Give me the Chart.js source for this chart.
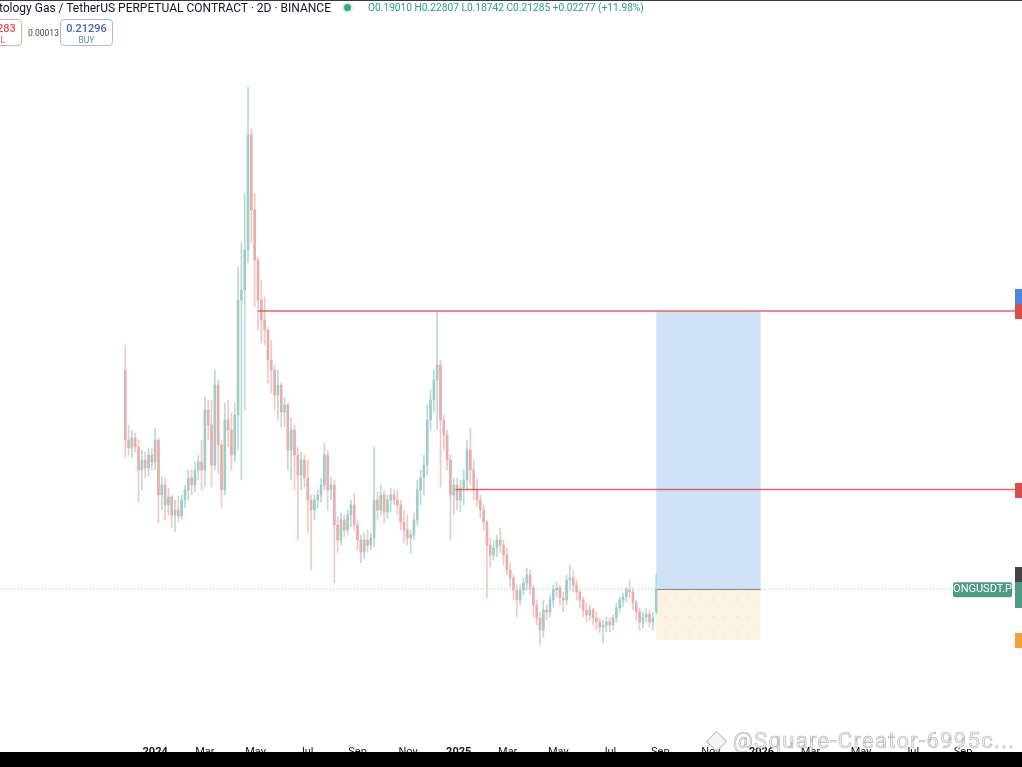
<!DOCTYPE html>
<html>
<head>
<meta charset="utf-8">
<script src="https://cdn.jsdelivr.net/npm/chart.js@4.4.1/dist/chart.umd.min.js"></script>
<style>
  html, body { margin: 0; padding: 0; background: #fff; }
  body { width: 1022px; height: 767px; position: relative; overflow: hidden; font-family: Roboto, "Noto Sans", sans-serif; }
  #chart-wrap { position: absolute; left: 0; top: 0; width: 1022px; height: 752px; }
  .top-rule { position: absolute; left: 0; top: 0; width: 1022px; height: 1px; background: #3a3a3a; }
  .title { position: absolute; right: 691px; top: 1px; font-size: 12px; color: #131722; white-space: nowrap; }
  .status-dot { position: absolute; left: 344px; top: 4px; width: 7px; height: 7px; border-radius: 50%; background: #3fa58a; box-shadow: 0 0 0 2px rgba(63,165,138,0.2); }
  .ohlc { position: absolute; left: 368px; top: 2px; font-size: 10.2px; color: #2a9d86; white-space: nowrap; }
  .trade-box { position: absolute; top: 19px; width: 53px; height: 27px; border-radius: 4px; text-align: center; box-sizing: border-box; }
  .trade-box .p { font-size: 11px; line-height: 13px; margin-top: 2px; font-weight: 500; }
  .trade-box .s { font-size: 8.5px; line-height: 10px; }
  .sell { left: -31px; border: 1px solid #eea3a3; color: #df5452; }
  .buy { left: 60px; border: 1px solid #a9b9e6; color: #4563b2; }
  .buy .s { color: #6f83c2; }
  .spread { position: absolute; left: 28px; top: 28px; font-size: 8.5px; color: #444; }
  .watermark { position: absolute; left: 733px; top: 728px; font-size: 22px; color: rgba(242,242,242,0.8); -webkit-text-stroke: 0.7px #b8b8b8; white-space: nowrap; letter-spacing: 1.3px; }
  .wm-logo { position: absolute; left: 709px; top: 734px; width: 13px; height: 13px; border: 1.5px solid #bcbcbc; transform: rotate(45deg); background: rgba(240,240,240,0.6); }
  .bottom-bar { position: absolute; left: 0; top: 752px; width: 1022px; height: 15px; background: #000; }
</style>
</head>
<body>
<div id="chart-wrap"><canvas id="ong-chart" width="1022" height="752"></canvas></div>
<div class="top-rule"></div>
<div class="title">Ontology Gas / TetherUS PERPETUAL CONTRACT · 2D · BINANCE</div>
<div class="status-dot"></div>
<div class="ohlc">O0.19010 H0.22807 L0.18742 C0.21285 +0.02277 (+11.98%)</div>
<div class="trade-box sell"><div class="p">0.21283</div><div class="s">SELL</div></div>
<div class="spread">0.00013</div>
<div class="trade-box buy"><div class="p">0.21296</div><div class="s">BUY</div></div>
<div class="wm-logo"></div>
<div class="watermark">@Square-Creator-6995c...</div>
<div class="bottom-bar"></div>

<script>
// candles: one every 4 days starting 2023-11-26 (days counted from 2024-01-01)
const CANDLE_START_DAY = -36;
const CANDLE_STEP_DAYS = 4;

const opens = [
  0.432, 0.362, 0.354, 0.364, 0.355, 0.332, 0.342, 0.334, 0.347, 0.340,
  0.362, 0.307, 0.317, 0.297, 0.305, 0.287, 0.292, 0.286, 0.302, 0.312,
  0.324, 0.317, 0.332, 0.340, 0.332, 0.392, 0.377, 0.337, 0.417, 0.357,
  0.312, 0.382, 0.372, 0.347, 0.387, 0.502, 0.512, 0.552, 0.667, 0.592,
  0.542, 0.502, 0.482, 0.472, 0.442, 0.432, 0.407, 0.417, 0.390, 0.397,
  0.352, 0.372, 0.347, 0.327, 0.342, 0.324, 0.302, 0.292, 0.302, 0.307,
  0.317, 0.347, 0.312, 0.317, 0.277, 0.262, 0.282, 0.272, 0.287, 0.297,
  0.277, 0.262, 0.250, 0.262, 0.257, 0.264, 0.302, 0.292, 0.307, 0.290,
  0.302, 0.307, 0.302, 0.297, 0.280, 0.272, 0.264, 0.267, 0.282, 0.312,
  0.324, 0.337, 0.382, 0.402, 0.422, 0.437, 0.382, 0.367, 0.342, 0.307,
  0.317, 0.302, 0.314, 0.322, 0.352, 0.332, 0.312, 0.302, 0.292, 0.280,
  0.257, 0.247, 0.254, 0.262, 0.257, 0.247, 0.232, 0.224, 0.212, 0.202,
  0.212, 0.219, 0.227, 0.214, 0.197, 0.184, 0.172, 0.192, 0.190, 0.202,
  0.212, 0.214, 0.204, 0.202, 0.222, 0.224, 0.217, 0.210, 0.202, 0.192,
  0.187, 0.192, 0.184, 0.180, 0.175, 0.177, 0.180, 0.177, 0.184, 0.194,
  0.202, 0.205, 0.212, 0.210, 0.199, 0.190, 0.180, 0.185, 0.188, 0.180,
  0.19010
];
const highs = [
  0.457, 0.377, 0.372, 0.369, 0.362, 0.352, 0.350, 0.354, 0.354, 0.374,
  0.364, 0.325, 0.324, 0.314, 0.307, 0.302, 0.306, 0.307, 0.317, 0.332,
  0.332, 0.340, 0.347, 0.362, 0.405, 0.402, 0.402, 0.432, 0.422, 0.362,
  0.399, 0.402, 0.389, 0.399, 0.535, 0.559, 0.609, 0.715, 0.674, 0.609,
  0.545, 0.522, 0.505, 0.475, 0.462, 0.437, 0.432, 0.419, 0.405, 0.399,
  0.384, 0.377, 0.355, 0.350, 0.347, 0.342, 0.307, 0.307, 0.312, 0.324,
  0.359, 0.352, 0.325, 0.322, 0.285, 0.289, 0.287, 0.292, 0.302, 0.309,
  0.282, 0.267, 0.269, 0.272, 0.269, 0.355, 0.310, 0.317, 0.312, 0.307,
  0.314, 0.312, 0.312, 0.302, 0.292, 0.287, 0.272, 0.289, 0.322, 0.332,
  0.347, 0.397, 0.412, 0.432, 0.490, 0.442, 0.387, 0.372, 0.347, 0.324,
  0.324, 0.322, 0.332, 0.362, 0.374, 0.342, 0.324, 0.307, 0.297, 0.282,
  0.264, 0.262, 0.267, 0.274, 0.262, 0.254, 0.239, 0.227, 0.217, 0.217,
  0.224, 0.234, 0.232, 0.217, 0.202, 0.190, 0.202, 0.197, 0.207, 0.217,
  0.220, 0.217, 0.210, 0.227, 0.237, 0.232, 0.222, 0.212, 0.205, 0.199,
  0.197, 0.194, 0.190, 0.184, 0.182, 0.185, 0.184, 0.187, 0.199, 0.205,
  0.209, 0.215, 0.222, 0.214, 0.202, 0.194, 0.190, 0.194, 0.192, 0.190,
  0.22807
];
const lows = [
  0.345, 0.347, 0.344, 0.350, 0.300, 0.312, 0.324, 0.326, 0.332, 0.332,
  0.279, 0.292, 0.282, 0.287, 0.274, 0.270, 0.280, 0.282, 0.294, 0.302,
  0.307, 0.310, 0.322, 0.312, 0.315, 0.362, 0.315, 0.332, 0.329, 0.295,
  0.307, 0.355, 0.332, 0.340, 0.352, 0.322, 0.392, 0.539, 0.559, 0.495,
  0.472, 0.459, 0.457, 0.419, 0.409, 0.392, 0.382, 0.375, 0.375, 0.332,
  0.322, 0.312, 0.262, 0.312, 0.315, 0.269, 0.232, 0.282, 0.294, 0.300,
  0.312, 0.292, 0.302, 0.219, 0.249, 0.257, 0.265, 0.267, 0.275, 0.272,
  0.252, 0.239, 0.244, 0.250, 0.252, 0.255, 0.282, 0.287, 0.279, 0.284,
  0.290, 0.297, 0.287, 0.272, 0.259, 0.257, 0.249, 0.262, 0.277, 0.297,
  0.307, 0.327, 0.372, 0.390, 0.372, 0.315, 0.352, 0.332, 0.262, 0.287,
  0.292, 0.290, 0.297, 0.312, 0.317, 0.302, 0.295, 0.284, 0.272, 0.204,
  0.235, 0.242, 0.245, 0.249, 0.237, 0.227, 0.215, 0.202, 0.185, 0.197,
  0.207, 0.212, 0.207, 0.185, 0.177, 0.157, 0.165, 0.182, 0.185, 0.195,
  0.205, 0.197, 0.190, 0.197, 0.212, 0.210, 0.202, 0.194, 0.185, 0.180,
  0.182, 0.177, 0.172, 0.169, 0.159, 0.170, 0.170, 0.172, 0.180, 0.190,
  0.195, 0.200, 0.204, 0.192, 0.182, 0.172, 0.174, 0.180, 0.175, 0.172,
  0.18742
];
const closes = [
  0.362, 0.354, 0.364, 0.355, 0.332, 0.342, 0.334, 0.347, 0.340, 0.362,
  0.307, 0.317, 0.297, 0.305, 0.287, 0.292, 0.286, 0.302, 0.312, 0.324,
  0.317, 0.332, 0.340, 0.332, 0.392, 0.377, 0.337, 0.417, 0.357, 0.312,
  0.382, 0.372, 0.347, 0.387, 0.502, 0.512, 0.552, 0.667, 0.592, 0.542,
  0.502, 0.482, 0.472, 0.442, 0.432, 0.407, 0.417, 0.390, 0.397, 0.352,
  0.372, 0.347, 0.327, 0.342, 0.324, 0.302, 0.292, 0.302, 0.307, 0.317,
  0.347, 0.312, 0.317, 0.277, 0.262, 0.282, 0.272, 0.287, 0.297, 0.277,
  0.262, 0.250, 0.262, 0.257, 0.264, 0.302, 0.292, 0.307, 0.290, 0.302,
  0.307, 0.302, 0.297, 0.280, 0.272, 0.264, 0.267, 0.282, 0.312, 0.324,
  0.337, 0.382, 0.402, 0.422, 0.437, 0.382, 0.367, 0.342, 0.307, 0.317,
  0.302, 0.314, 0.322, 0.352, 0.332, 0.312, 0.302, 0.292, 0.280, 0.257,
  0.247, 0.254, 0.262, 0.257, 0.247, 0.232, 0.224, 0.212, 0.202, 0.212,
  0.219, 0.227, 0.214, 0.197, 0.184, 0.172, 0.192, 0.190, 0.202, 0.212,
  0.214, 0.204, 0.202, 0.222, 0.224, 0.217, 0.210, 0.202, 0.192, 0.187,
  0.192, 0.184, 0.180, 0.175, 0.177, 0.180, 0.177, 0.184, 0.194, 0.202,
  0.205, 0.212, 0.210, 0.199, 0.190, 0.180, 0.185, 0.188, 0.180, 0.184,
  0.21285
];

// time axis labels (days from 2024-01-01)
const tickDays = [0, 60, 121, 182, 244, 305, 366, 425, 486, 547, 609, 670, 731, 790, 851, 912, 974];
const tickLabels = ["2024", "Mar", "May", "Jul", "Sep", "Nov", "2025", "Mar", "May", "Jul", "Sep", "Nov", "2026", "Mar", "May", "Jul", "Sep"];

// drawn levels and long-position tool
const resistanceHigh = { fromDay: 124, price: 0.491 };
const resistanceLow = { fromDay: 362, price: 0.3125 };
const lastPrice = 0.21285;
const positionStartDay = 604;
const positionEndDay = 730;
const targetPrice = 0.491;
const entryPrice = 0.21285;
const stopPrice = 0.162;
const axisTagPrices = [0.5065, 0.491, 0.3125, 0.22807, 0.21285, 0.162];

const X_MIN = -187;
const X_MAX = 1045;
const Y_MIN = 0.072;
const Y_MAX = 0.802;

const UP_WICK = "#b8dbd7";
const UP_BODY = "#a3ccc7";
const DOWN_WICK = "#f2c7c5";
const DOWN_BODY = "#e6afad";

const candleDays = closes.map((_, i) => CANDLE_START_DAY + i * CANDLE_STEP_DAYS);
const isUp = (i) => closes[i] >= opens[i];

const positionToolPlugin = {
  id: "positionTool",
  beforeDatasetsDraw(chart) {
    const { ctx, scales: { x, y } } = chart;
    const x0 = x.getPixelForValue(positionStartDay);
    const x1 = x.getPixelForValue(positionEndDay);
    const yT = y.getPixelForValue(targetPrice);
    const yE = y.getPixelForValue(entryPrice);
    const yS = y.getPixelForValue(stopPrice);
    ctx.save();
    ctx.fillStyle = "#cfe2f8";
    ctx.fillRect(x0, yT, x1 - x0, yE - yT);
    ctx.fillStyle = "#fbf3e2";
    ctx.fillRect(x0, yE, x1 - x0, yS - yE);
    // faint dot texture of the stop zone
    ctx.fillStyle = "rgba(190,160,110,0.35)";
    let row = 0;
    for (let yy = yE + 9; yy < yS - 3; yy += 9, row++) {
      for (let xx = x0 + 8 + (row % 2) * 6; xx < x1 - 3; xx += 12) ctx.fillRect(xx, yy, 1, 1);
    }
    ctx.strokeStyle = "#8d8d8d";
    ctx.lineWidth = 1;
    ctx.beginPath();
    ctx.moveTo(x0, Math.round(yE) + 0.5);
    ctx.lineTo(x1, Math.round(yE) + 0.5);
    ctx.stroke();
    ctx.restore();
  },
};

const axisTagPlugin = {
  id: "axisTags",
  afterDraw(chart) {
    const { ctx, scales: { y } } = chart;
    const colors = ["#4a86de", "#d64f4b", "#d64f4b", "#444444", "#4f9a85", "#f0a035"];
    const heights = [15, 15, 15, 15, 26, 15];
    ctx.save();
    axisTagPrices.forEach((p, i) => {
      const py = y.getPixelForValue(p);
      ctx.fillStyle = colors[i];
      ctx.fillRect(1015, Math.round(py - 7), 7, heights[i]);
    });
    // symbol label on the last price
    const py = y.getPixelForValue(lastPrice);
    ctx.fillStyle = "#4f9a85";
    ctx.beginPath();
    ctx.roundRect(953, py - 7, 59, 15, 2);
    ctx.fill();
    ctx.fillStyle = "#ffffff";
    ctx.font = "11px Roboto, sans-serif";
    ctx.textAlign = "center";
    ctx.textBaseline = "middle";
    ctx.fillText("ONGUSDT.P", 982.5, py + 0.5);
    ctx.restore();
  },
};

new Chart(document.getElementById("ong-chart"), {
  type: "bar",
  data: {
    datasets: [
      {
        type: "line",
        label: "Resistance 1",
        data: [{ x: resistanceHigh.fromDay, y: resistanceHigh.price }, { x: X_MAX, y: resistanceHigh.price }],
        borderColor: "rgba(214,79,75,0.85)",
        borderWidth: 1.6,
        pointRadius: 0,
        order: 0,
      },
      {
        type: "line",
        label: "Resistance 2",
        data: [{ x: resistanceLow.fromDay, y: resistanceLow.price }, { x: X_MAX, y: resistanceLow.price }],
        borderColor: "rgba(214,79,75,0.85)",
        borderWidth: 1.6,
        pointRadius: 0,
        order: 0,
      },
      {
        type: "line",
        label: "Last price",
        data: [{ x: X_MIN, y: lastPrice }, { x: X_MAX, y: lastPrice }],
        borderColor: "rgba(63,165,138,0.5)",
        borderWidth: 1,
        borderDash: [1, 2],
        pointRadius: 0,
        order: 3,
      },
      {
        label: "Bodies",
        data: candleDays.map((d, i) => ({ x: d, y: [opens[i], closes[i]] })),
        backgroundColor: (c) => (isUp(c.dataIndex) ? UP_BODY : DOWN_BODY),
        barThickness: 2,
        minBarLength: 1,
        grouped: false,
        order: 1,
      },
      {
        label: "Wicks",
        data: candleDays.map((d, i) => ({ x: d, y: [lows[i], highs[i]] })),
        backgroundColor: (c) => (isUp(c.dataIndex) ? UP_WICK : DOWN_WICK),
        barThickness: 1,
        grouped: false,
        order: 2,
      },
    ],
  },
  options: {
    responsive: false,
    animation: false,
    devicePixelRatio: 1,
    layout: { padding: 0 },
    plugins: { legend: { display: false }, tooltip: { enabled: false } },
    scales: {
      x: {
        type: "linear",
        min: X_MIN,
        max: X_MAX,
        offset: false,
        grid: { display: false },
        border: { display: false },
        afterBuildTicks: (scale) => {
          scale.ticks = tickDays.map((v) => ({ value: v }));
        },
        afterFit: (scale) => {
          scale.height = 22;
        },
        ticks: {
          autoSkip: false,
          maxRotation: 0,
          padding: 8,
          color: "#131722",
          font: (c) => ({
            family: "Roboto, sans-serif",
            size: 11,
            weight: c.tick && /^\d{4}$/.test(tickLabels[tickDays.indexOf(c.tick.value)]) ? "bold" : "normal",
          }),
          callback: (value) => tickLabels[tickDays.indexOf(value)] ?? "",
        },
      },
      y: {
        type: "linear",
        display: false,
        min: Y_MIN,
        max: Y_MAX,
      },
    },
  },
  plugins: [positionToolPlugin, axisTagPlugin],
});
</script>
</body>
</html>
